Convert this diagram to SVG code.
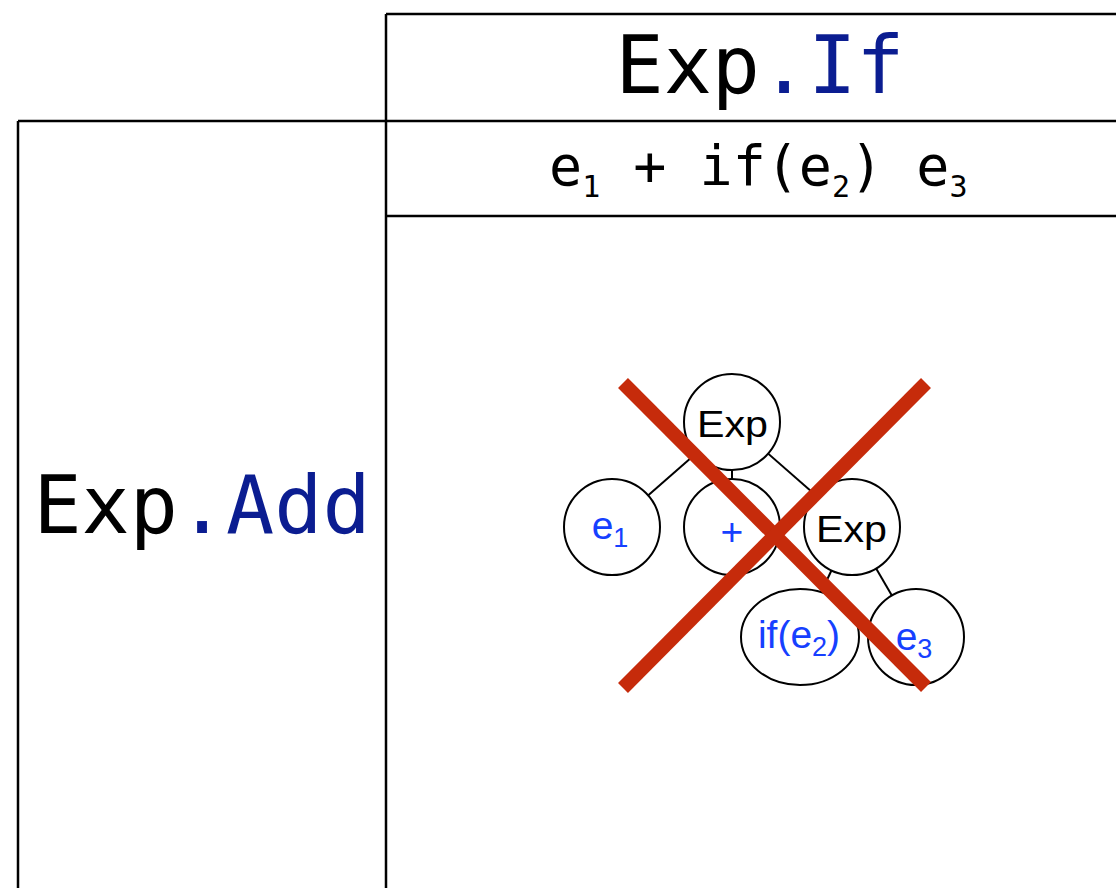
<svg xmlns="http://www.w3.org/2000/svg" width="1116" height="888" viewBox="0 0 1116 888">
<style>
.grid{stroke:#000;stroke-width:2.5;fill:none}
.mono{font-family:"DejaVu Sans Mono",monospace}
.hdr{font-size:80px}
.navy{fill:#0b1d91}
.sans{font-family:"Liberation Sans",Arial,sans-serif}
.node{fill:#fff;stroke:#000;stroke-width:2}
.edge{stroke:#000;stroke-width:2}
.blk{font-size:37px;fill:#000}
.blu{font-size:39px;fill:#1640ff}
.cross{stroke:#c62b0b;stroke-width:14;stroke-linecap:butt}
</style>
<rect width="1116" height="888" fill="#fff"/>
<g id="table">
<line class="grid" x1="386" y1="14" x2="1116" y2="14"/>
<line class="grid" x1="18" y1="121" x2="1116" y2="121"/>
<line class="grid" x1="386" y1="216" x2="1116" y2="216"/>
<line class="grid" x1="386" y1="14" x2="386" y2="888"/>
<line class="grid" x1="18" y1="121" x2="18" y2="888"/>
</g>
<g id="col-header">
<text class="mono hdr" x="760" y="93" text-anchor="middle">Exp<tspan class="navy">.If</tspan></text>
</g>
<g id="col-sub">
<text class="mono" font-size="55" x="549" y="185">e<tspan font-size="30" dy="12">1</tspan><tspan dy="-12"> + if(e</tspan><tspan font-size="30" dy="12">2</tspan><tspan dy="-12">) e</tspan><tspan font-size="30" dy="12">3</tspan></text>
</g>
<g id="row-header">
<text class="mono hdr" x="202" y="533" text-anchor="middle">Exp<tspan class="navy">.Add</tspan></text>
</g>
<g id="connectors">
<line class="edge" x1="732" y1="422" x2="612" y2="527"/>
<line class="edge" x1="732" y1="422" x2="732" y2="527"/>
<line class="edge" x1="732" y1="422" x2="852" y2="527"/>
<line class="edge" x1="852" y1="527" x2="800" y2="637"/>
<line class="edge" x1="852" y1="527" x2="916" y2="637"/>
</g>
<g id="n-exp-top">
<circle class="node" cx="732" cy="422" r="48"/>
<text class="sans blk" x="697" y="437" textLength="71" lengthAdjust="spacingAndGlyphs">Exp</text>
</g>
<g id="n-e1">
<circle class="node" cx="612" cy="527" r="48"/>
<text class="sans blu" x="610" y="539" text-anchor="middle">e<tspan font-size="27" dy="8">1</tspan></text>
</g>
<g id="n-plus">
<circle class="node" cx="732" cy="527" r="48"/>
<text class="sans blu" x="732" y="545" text-anchor="middle">+</text>
</g>
<g id="n-exp-right">
<circle class="node" cx="852" cy="527" r="48"/>
<text class="sans blk" x="816" y="542" textLength="71" lengthAdjust="spacingAndGlyphs">Exp</text>
</g>
<g id="n-if">
<ellipse class="node" cx="800" cy="637" rx="59" ry="48"/>
<text class="sans blu" x="799" y="648" text-anchor="middle">if(e<tspan font-size="27" dy="8">2</tspan><tspan dy="-8">)</tspan></text>
</g>
<g id="n-e3">
<circle class="node" cx="916" cy="637" r="48"/>
<text class="sans blu" x="914" y="650" text-anchor="middle">e<tspan font-size="27" dy="8">3</tspan></text>
</g>
<g id="cross">
<line class="cross" x1="623" y1="383" x2="926" y2="687"/>
<line class="cross" x1="926" y1="383" x2="623" y2="688"/>
</g>
</svg>
